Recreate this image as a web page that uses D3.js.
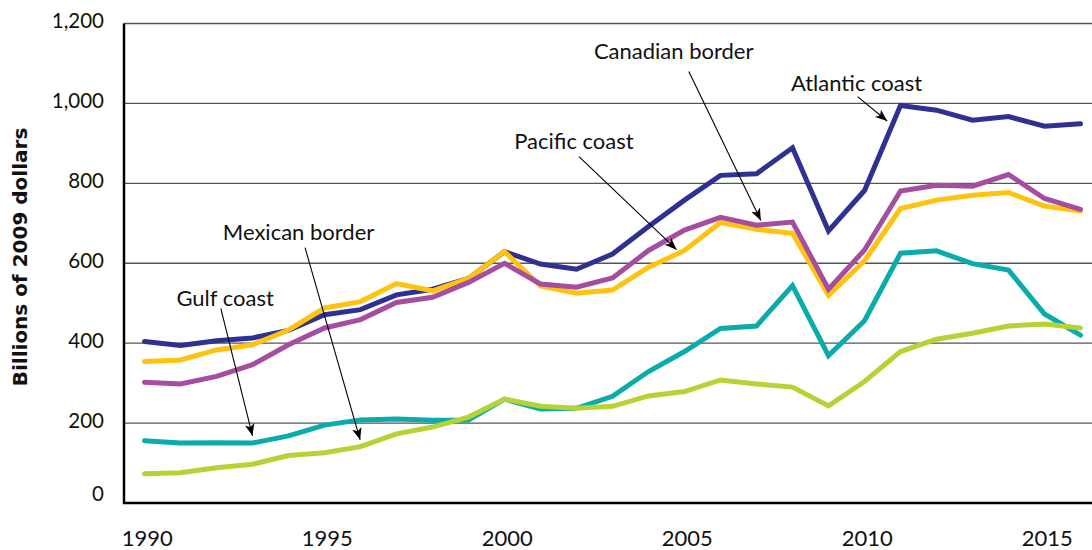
<!DOCTYPE html>
<meta charset="utf-8">
<style>
body { margin: 0; background: #fff; }
text { font-family: Lato, "Open Sans", sans-serif; fill: #111; }
.note { font-size: 22px; }
.ytitle { font-family: "DejaVu Sans", sans-serif; font-weight: bold; font-size: 20px; }
.grid { stroke: #555; stroke-width: 1.3; }
.series { fill: none; stroke-width: 5; stroke-linejoin: miter; stroke-linecap: round; }
</style>
<body>
<script src="https://d3js.org/d3.v7.min.js"></script>
<script>
var years = [1990, 1991, 1992, 1993, 1994, 1995, 1996, 1997, 1998, 1999, 2000, 2001, 2002,
  2003, 2004, 2005, 2006, 2007, 2008, 2009, 2010, 2011, 2012, 2013, 2014, 2015, 2016];

var atlantic = [404, 394, 406, 413, 432, 471, 484, 521, 535, 562, 629, 598, 585,
  623, 692, 758, 820, 824, 889, 681, 782, 995, 983, 958, 967, 943, 949];
var pacific = [354, 358, 383, 396, 433, 488, 504, 549, 531, 562, 629, 543, 525,
  533, 590, 632, 702, 685, 675, 520, 606, 737, 758, 770, 777, 743, 731];
var canadian = [302, 298, 317, 346, 396, 438, 459, 502, 515, 552, 600, 548, 540,
  563, 632, 683, 715, 695, 703, 535, 633, 781, 795, 793, 822, 762, 735];
var gulf = [156, 150, 151, 150, 168, 195, 208, 210, 207, 208, 260, 235, 237,
  267, 329, 379, 437, 443, 544, 369, 456, 625, 631, 599, 583, 473, 420];
var mexican = [73, 76, 88, 97, 119, 126, 141, 173, 190, 215, 260, 242, 237,
  242, 268, 279, 308, 298, 290, 243, 304, 379, 410, 425, 443, 448, 438];

var yTicks = [0, 200, 400, 600, 800, 1000, 1200];
var xTicks = [1990, 1995, 2000, 2005, 2010, 2015];

// drawn in this order (later ones on top)
var series = [
  {name: "Atlantic coast", values: atlantic, color: "#2e3192"},
  {name: "Pacific coast", values: pacific, color: "#ffc20e"},
  {name: "Canadian border", values: canadian, color: "#a54d9e"},
  {name: "Gulf coast", values: gulf, color: "#0aabab"},
  {name: "Mexican border", values: mexican, color: "#b5d334"}
];

// label text + arrow, anchored in data units (year, value)
var notes = [
  {text: "Canadian border", ty: 2004.7, tv: 1111, x0: 2005.12, v0: 1080, x1: 2007.12, v1: 707},
  {text: "Atlantic coast", ty: 2009.78, tv: 1030, x0: 2009.81, v0: 1017, x1: 2010.63, v1: 956},
  {text: "Pacific coast", ty: 2001.93, tv: 887, x0: 2002.07, v0: 867, x1: 2004.78, v1: 634},
  {text: "Mexican border", ty: 1994.28, tv: 659, x0: 1994.46, v0: 639, x1: 1995.99, v1: 158},
  {text: "Gulf coast", ty: 1992.24, tv: 492, x0: 1992.12, v0: 487, x1: 1993.0, v1: 168}
];

var width = 1092, height = 550,
    axisLeft = 124, axisBottom = 503;

var x = d3.scaleLinear().domain([1990, 2016]).range([144.5, 1080.5]);
var y = d3.scaleLinear().domain([0, 1200]).range([axisBottom, 23.5]);

var svg = d3.select("body").append("svg")
    .attr("width", width)
    .attr("height", height);

svg.append("defs").append("marker")
    .attr("id", "arrow")
    .attr("viewBox", "-12 -6 14 12")
    .attr("refX", 0)
    .attr("refY", 0)
    .attr("markerWidth", 14)
    .attr("markerHeight", 12)
    .attr("markerUnits", "userSpaceOnUse")
    .attr("orient", "auto")
  .append("path")
    .attr("d", "M0,0L-12,-4.8L-9,0L-12,4.8Z")
    .attr("fill", "#000");

// gridlines
svg.selectAll(".grid")
    .data(yTicks.slice(1))
  .enter().append("line")
    .attr("class", "grid")
    .attr("x1", axisLeft)
    .attr("x2", width)
    .attr("y1", function(d) { return y(d); })
    .attr("y2", function(d) { return y(d); });

// y tick labels
var yAxis = d3.axisLeft(y).tickValues(yTicks).tickSize(0).tickPadding(20).tickFormat(d3.format(","));
svg.append("g")
    .attr("transform", "translate(" + axisLeft + ",0)")
    .call(yAxis)
    .call(function(g) { g.select(".domain").remove(); })
    .selectAll("text")
      .attr("fill", "#111")
      .style("font-family", "Lato, 'Open Sans', sans-serif")
      .style("font-size", "20.5px")
      .attr("dy", function(d) { return d === 0 ? "-0.1em" : "0.2em"; });

// x tick labels
var xAxis = d3.axisBottom(x).tickValues(xTicks).tickSize(0).tickPadding(27).tickFormat(d3.format("d"));
svg.append("g")
    .attr("transform", "translate(0," + axisBottom + ")")
    .call(xAxis)
    .call(function(g) { g.select(".domain").remove(); })
    .selectAll("text")
      .attr("fill", "#111")
      .attr("dx", "0.1em")
      .style("font-family", "Lato, 'Open Sans', sans-serif")
      .style("font-size", "22px");

// series lines
var line = d3.line()
    .x(function(d, i) { return x(years[i]); })
    .y(function(d) { return y(d); });

svg.selectAll(".series")
    .data(series)
  .enter().append("path")
    .attr("class", "series")
    .attr("stroke", function(d) { return d.color; })
    .attr("d", function(d) { return line(d.values); });

// axes lines
svg.append("path")
    .attr("d", "M" + axisLeft + "," + y(1200) + "V" + axisBottom + "H" + width)
    .attr("fill", "none")
    .attr("stroke", "#000")
    .attr("stroke-width", 2.5);

// annotations
var note = svg.selectAll(".note-g")
    .data(notes)
  .enter().append("g");

note.append("text")
    .attr("class", "note")
    .attr("text-anchor", "middle")
    .attr("x", function(d) { return x(d.ty); })
    .attr("y", function(d) { return y(d.tv); })
    .text(function(d) { return d.text; });

note.append("line")
    .attr("x1", function(d) { return x(d.x0); })
    .attr("y1", function(d) { return y(d.v0); })
    .attr("x2", function(d) { return x(d.x1); })
    .attr("y2", function(d) { return y(d.v1); })
    .attr("stroke", "#000")
    .attr("stroke-width", 1.1)
    .attr("marker-end", "url(#arrow)");

// y title
svg.append("text")
    .attr("class", "ytitle")
    .attr("text-anchor", "middle")
    .attr("transform", "translate(27,257) rotate(-90)")
    .text("Billions of 2009 dollars");
</script>
